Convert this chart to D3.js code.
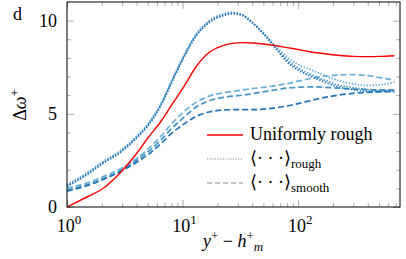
<html>
<head>
<meta charset="UTF-8">
<script src="https://d3js.org/d3.v7.min.js"></script>
<style>
  body { margin: 0; background: #fff; }
</style>
</head>
<body>
<svg id="chart" width="406" height="259" font-family="'Liberation Serif', 'Times New Roman', 'DejaVu Serif', serif"></svg>
<script>
// y+ - h+m sample positions (shared by all curves)
const yPlus = [1, 1.5, 2, 3, 4, 5, 6.5, 8, 10, 13, 17, 22, 27, 33, 40, 50, 65, 80, 100, 130, 170, 220, 300, 400, 500, 680];

const uniform = [0, 0.55, 0.95, 1.95, 2.87, 3.7, 4.6, 5.45, 6.35, 7.5, 8.3, 8.65, 8.78, 8.82, 8.8, 8.75, 8.65, 8.55, 8.45, 8.32, 8.22, 8.14, 8.08, 8.07, 8.08, 8.12];

const roughA = [1.2, 1.85, 2.4, 3.1, 3.8, 4.45, 5.55, 6.75, 8.0, 9.25, 10.0, 10.35, 10.45, 10.3, 9.9, 9.35, 8.6, 8.05, 7.65, 7.35, 7.05, 6.8, 6.6, 6.52, 6.55, 6.7];
const roughB = [1.15, 1.8, 2.35, 3.05, 3.75, 4.4, 5.5, 6.7, 7.95, 9.2, 9.95, 10.3, 10.4, 10.28, 9.88, 9.3, 8.5, 7.9, 7.45, 7.1, 6.8, 6.55, 6.4, 6.3, 6.25, 6.25];
const roughC = [1.1, 1.75, 2.3, 3.0, 3.7, 4.35, 5.45, 6.65, 7.9, 9.15, 9.9, 10.25, 10.38, 10.3, 9.92, 9.3, 8.45, 7.8, 7.35, 7.0, 6.7, 6.45, 6.3, 6.2, 6.2, 6.2];

const smoothA = [1.0, 1.3, 1.6, 2.1, 2.6, 3.1, 3.8, 4.45, 5.05, 5.6, 5.95, 6.12, 6.2, 6.28, 6.35, 6.42, 6.52, 6.62, 6.75, 6.9, 7.02, 7.08, 7.1, 7.05, 6.95, 6.8];
const smoothB = [0.9, 1.2, 1.5, 2.0, 2.5, 2.95, 3.6, 4.2, 4.75, 5.35, 5.7, 5.87, 5.95, 6.0, 6.08, 6.18, 6.3, 6.38, 6.42, 6.45, 6.42, 6.38, 6.32, 6.3, 6.28, 6.28];
const smoothC = [0.85, 1.15, 1.45, 1.95, 2.4, 2.8, 3.4, 3.95, 4.4, 4.85, 5.1, 5.2, 5.22, 5.22, 5.22, 5.25, 5.33, 5.42, 5.55, 5.72, 5.88, 6.0, 6.1, 6.15, 6.18, 6.2];

const xMajor = [1, 10, 100];
const xMajorExp = ["0", "1", "2"];
const xMinor = [2, 3, 4, 5, 6, 7, 8, 9, 20, 30, 40, 50, 60, 70, 80, 90, 200, 300, 400, 500, 600, 700];
const yMajor = [0, 5, 10];
const yMinor = [1, 2, 3, 4, 6, 7, 8, 9];

const blues = ["#6baed6", "#4292c6", "#2171b5"];

const svg = d3.select("#chart");
const L = 67, R = 400, T = 2, B = 207;

const x = d3.scaleLog().domain([1, 760]).range([L, R]);
const y = d3.scaleLinear().domain([0, 11]).range([B, T]);

// ticks (inward, all four sides)
function tickAxis(axis, tx, ty, vals, size) {
  svg.append("g").attr("transform", "translate(" + tx + "," + ty + ")")
    .call(axis.tickValues(vals).tickSize(-size).tickFormat(""))
    .call(g => g.select(".domain").remove())
    .call(g => g.selectAll("line").attr("stroke", "#999").attr("stroke-width", 0.8));
}
tickAxis(d3.axisBottom(x), 0, B, xMajor, 7);
tickAxis(d3.axisBottom(x), 0, B, xMinor, 4);
tickAxis(d3.axisTop(x), 0, T, xMajor, 7);
tickAxis(d3.axisTop(x), 0, T, xMinor, 4);
tickAxis(d3.axisLeft(y), L, 0, yMajor, 7);
tickAxis(d3.axisLeft(y), L, 0, yMinor, 4);
tickAxis(d3.axisRight(y), R, 0, yMajor, 7);
tickAxis(d3.axisRight(y), R, 0, yMinor, 4);

// curves
const line = d3.line()
  .x((d, i) => x(yPlus[i]))
  .y(d => y(d))
  .curve(d3.curveMonotoneX);

const plot = svg.append("g");
[smoothA, smoothB, smoothC].forEach((s, i) => {
  plot.append("path").attr("d", line(s)).attr("fill", "none")
    .attr("stroke", blues[i]).attr("stroke-width", 1.7).attr("stroke-dasharray", "6,3");
});
[roughA, roughB, roughC].forEach((s, i) => {
  plot.append("path").attr("d", line(s)).attr("fill", "none")
    .attr("stroke", blues[i]).attr("stroke-width", 1.8).attr("stroke-dasharray", "1.4,1.6");
});
plot.append("path").attr("d", line(uniform)).attr("fill", "none")
  .attr("stroke", "#ff0000").attr("stroke-width", 1.4);

// frame
svg.append("rect").attr("x", L).attr("y", T).attr("width", R - L).attr("height", B - T)
  .attr("fill", "none").attr("stroke", "#000").attr("stroke-width", 1);

// tick labels
xMajor.forEach((v, i) => {
  const t = svg.append("text").attr("x", x(v) + 2).attr("y", 232)
    .attr("text-anchor", "middle").attr("font-size", 18);
  t.append("tspan").text("10");
  t.append("tspan").attr("dy", -8).attr("font-size", 13).text(xMajorExp[i]);
});
yMajor.forEach(v => {
  svg.append("text").attr("x", 57).attr("y", y(v) + 6)
    .attr("text-anchor", "end").attr("font-size", 18).text(v);
});

// axis titles
const xt = svg.append("text").attr("x", 233).attr("y", 247).attr("text-anchor", "middle").attr("font-size", 18);
xt.append("tspan").attr("font-style", "italic").text("y");
xt.append("tspan").attr("dy", -7).attr("font-size", 13).text("+");
xt.append("tspan").attr("dy", 7).text(" − ");
xt.append("tspan").attr("font-style", "italic").text("h");
xt.append("tspan").attr("dy", -7).attr("font-size", 13).text("+");
xt.append("tspan").attr("dy", 11).attr("font-size", 13).attr("font-style", "italic").text("m");

const yt = svg.append("text").attr("transform", "translate(26,105) rotate(-90)")
  .attr("text-anchor", "middle").attr("font-size", 18);
yt.append("tspan").text("Δ");
yt.append("tspan").attr("font-style", "italic").text("ω");
yt.append("tspan").attr("dy", -7).attr("font-size", 13).text("+");

svg.append("text").attr("x", 13).attr("y", 20).attr("font-size", 18).text("d");

// legend
const legend = [
  { label: "Uniformly rough", sub: null, color: "#ff0000", dash: null },
  { label: "⟨· · ·⟩", sub: "rough", color: "#888", dash: "1.2,1.4" },
  { label: "⟨· · ·⟩", sub: "smooth", color: "#888", dash: "5,3" }
];
legend.forEach((d, i) => {
  const ly = 135 + i * 24;
  svg.append("line").attr("x1", 207).attr("x2", 243).attr("y1", ly).attr("y2", ly)
    .attr("stroke", d.color).attr("stroke-width", d.dash ? 1 : 1.4)
    .attr("stroke-dasharray", d.dash);
  const t = svg.append("text").attr("x", 250).attr("y", ly + 5).attr("font-size", 18);
  t.append("tspan").text(d.label);
  if (d.sub) t.append("tspan").attr("dy", 4).attr("font-size", 13).text(d.sub);
});
</script>
</body>
</html>
